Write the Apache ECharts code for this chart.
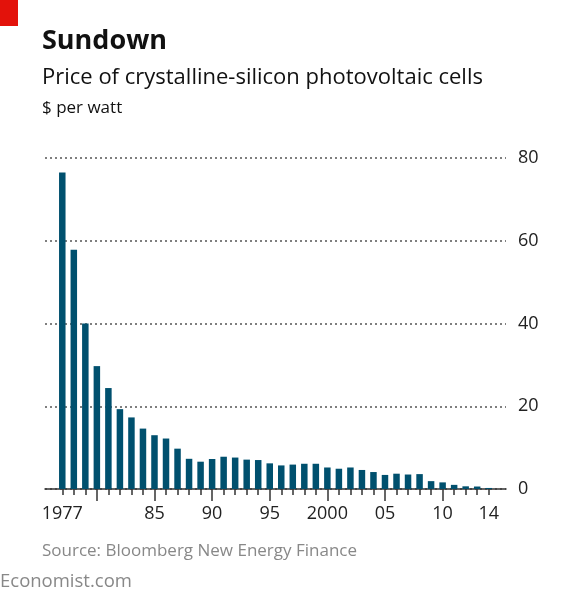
<!DOCTYPE html><html><head><meta charset="utf-8"><script src="https://cdn.jsdelivr.net/npm/echarts@6/dist/echarts.min.js"></script>
<style>body{margin:0;background:#fff}#c{width:580px;height:606px}</style></head><body><div id="c"></div><script>
const years=[];for(let y=1977;y<=2014;y++)years.push(String(y));
const values=[76.5,57.8,40.0,29.7,24.4,19.3,17.3,14.6,13.0,12.2,9.75,7.3,6.6,7.25,7.8,7.6,7.1,7.0,6.2,5.7,5.9,6.1,6.1,5.2,4.9,5.2,4.6,4.1,3.4,3.7,3.5,3.6,1.9,1.6,1.0,0.65,0.6,0.25];
const yTicks=[0,20,40,60,80];
const tickLabels={'1977':'1977','1985':'85','1990':'90','1995':'95','2000':'2000','2005':'05','2010':'10','2014':'14'};
const longTicks=['1980','1985','1990','1995','2000','2005','2010'];
const cats=['1976'].concat(years,['2015']);
const data=[null].concat(values,[null]);
const c=echarts.init(document.getElementById('c'));
const F='Open Sans';
c.setOption({animation:false,
graphic:[{type:'rect',shape:{x:0,y:0,width:18,height:26},style:{fill:'#e3120b'}},
{type:'text',left:42,top:28,style:{text:'Sundown',font:'bold 27px '+F,fill:'#111'}},
{type:'text',left:42,top:67,style:{text:'Price of crystalline-silicon photovoltaic cells',font:'22px '+F,fill:'#111'}},
{type:'text',left:42,top:100,style:{text:'$ per watt',font:'17px '+F,fill:'#111'}},
{type:'text',left:42,top:543,style:{text:'Source: Bloomberg New Energy Finance',font:'17px '+F,fill:'#888'}},
{type:'text',left:0,top:572,style:{text:'Economist.com',font:'18.5px '+F,fill:'#888'}}],
grid:{left:45,right:74,top:158,bottom:117},
xAxis:[{type:'category',data:cats,axisLine:{lineStyle:{color:'#333',width:1.5}},
axisTick:{show:true,alignWithLabel:true,length:6,lineStyle:{color:'#333',width:1.5},interval:(i,v)=>v>'1976'&&v<'2015'},
axisLabel:{interval:0,formatter:v=>tickLabels[v]||'',color:'#222',fontSize:18,fontFamily:F,margin:16}},
{type:'category',data:cats,position:'bottom',axisLine:{show:false},
axisTick:{show:true,alignWithLabel:true,length:12,interval:(i,v)=>longTicks.includes(v),lineStyle:{color:'#333',width:1.5}},axisLabel:{show:false}}],
yAxis:{type:'value',position:'right',min:0,max:80,interval:20,
axisLine:{show:false},axisTick:{show:false},
splitLine:{lineStyle:{color:'#555',type:[2,3],width:1.5}},
axisLabel:{color:'#222',fontSize:18,fontFamily:F,margin:12,formatter:v=>yTicks.includes(v)?String(v):''}},
series:[{type:'bar',data:data,barWidth:6.5,itemStyle:{color:'#00506e'}}]});
</script></body></html>
